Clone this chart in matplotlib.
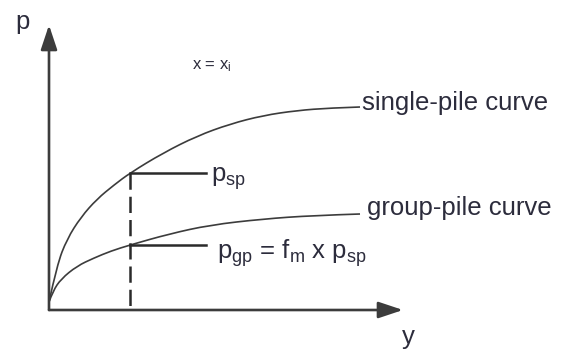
import matplotlib
matplotlib.use('Agg')
import matplotlib.pyplot as plt
from matplotlib.path import Path
from matplotlib.patches import PathPatch

plt.rcParams['font.family'] = ['Liberation Sans', 'DejaVu Sans']
plt.rcParams['mathtext.fontset'] = 'custom'
plt.rcParams['mathtext.rm'] = 'Liberation Sans'
plt.rcParams['mathtext.it'] = 'Liberation Sans'

# deflection y / soil resistance p (arbitrary units)
single_y = [0, 8, 18, 32, 48, 65, 81, 114, 148, 181, 214, 248, 281, 311]
single_p = [8, 45, 71, 93, 111, 125, 137, 157, 174, 186, 194.5, 199.5, 202, 203]
group_y = [0, 4, 12, 28, 45, 62, 81, 120, 161, 214, 264, 311]
group_p = [8, 19, 31, 44, 52, 59, 65, 76, 85, 91, 94.5, 96]

y_i = 81            # deflection where the two curves are compared
p_sp = 137
p_gp = 65
leader_end = 157
axis_top = 285
axis_right = 354

LINE = '#3c3c3c'
TEXT = '#2c2c3c'


def smooth_curve(xs, ys):
    # quadratic b-spline through the read points (points used as control points)
    pts = list(zip(xs, ys))
    verts = [pts[0]]
    codes = [Path.MOVETO]
    for i in range(1, len(pts) - 1):
        end = pts[i + 1] if i == len(pts) - 2 else (
            (pts[i][0] + pts[i + 1][0]) / 2, (pts[i][1] + pts[i + 1][1]) / 2)
        verts += [pts[i], end]
        codes += [Path.CURVE3, Path.CURVE3]
    return Path(verts, codes)


fig = plt.figure(figsize=(5.69, 3.53), dpi=100)
ax = fig.add_axes([0, 0, 1, 1])
ax.set_xlim(-49, 520)
ax.set_ylim(-43, 310)
ax.axis('off')

# axes with arrows
arrow = dict(arrowstyle='-|>,head_length=0.75,head_width=0.25', color=LINE,
             lw=1.9, shrinkA=0, shrinkB=0, mutation_scale=20)
ax.annotate('', xy=(0, axis_top), xytext=(0, 0), arrowprops=arrow)
ax.annotate('', xy=(axis_right, 0), xytext=(0, 0), arrowprops=arrow)

# curves
for xs, ys in [(single_y, single_p), (group_y, group_p)]:
    ax.add_patch(PathPatch(smooth_curve(xs, ys), fill=False, edgecolor=LINE, lw=1.2))

# dashed line at y = y_i (drawn top-down) and leaders
ax.plot([y_i, y_i], [p_sp, 0], color='#2a2a2a', lw=1.8, linestyle=(0, (6.5, 2.8)))
ax.plot([y_i, leader_end], [p_sp, p_sp], color='#2a2a2a', lw=1.8)
ax.plot([y_i, leader_end], [p_gp, p_gp], color='#2a2a2a', lw=1.8)

# labels
fs = 18.5
ax.text(-26, 281, 'p', fontsize=fs, color=TEXT, ha='center', va='baseline')
ax.text(359, -34, 'y', fontsize=fs, color=TEXT, ha='center', va='baseline')
ax.text(143, 241, r'x = $\mathrm{x_i}$', fontsize=12, color=TEXT, va='baseline')
ax.text(313, 200, 'single-pile curve', fontsize=fs, color=TEXT, va='baseline')
ax.text(318, 95, 'group-pile curve', fontsize=fs, color=TEXT, va='baseline')
ax.text(162, 128, r'$\mathrm{p_{sp}}$', fontsize=fs, color=TEXT, va='baseline')
ax.text(168, 51, r'$\mathrm{p_{gp}}$ = $\mathrm{f_m}$ x $\mathrm{p_{sp}}$', fontsize=fs,
        color=TEXT, va='baseline')

fig.savefig('out.png', dpi=100, facecolor='white')
